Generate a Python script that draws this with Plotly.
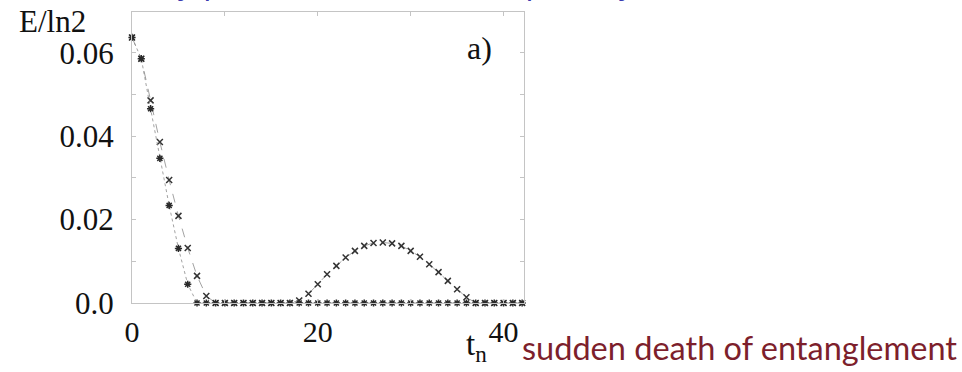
import plotly.graph_objects as go

# time steps t_n
t = list(range(0, 43))

# entanglement E/ln2 for the two initial states
E_star = [0.0637, 0.0586, 0.0466, 0.0347, 0.0234, 0.0131, 0.0045] + [0.0] * 36
E_cross = ([0.0637, 0.0586, 0.0486, 0.0386, 0.0295, 0.0209, 0.0132, 0.0065, 0.0017]
           + [0.0] * 9
           + [0.0006, 0.0022, 0.0045, 0.0069, 0.0089, 0.0109, 0.0125, 0.0137, 0.0144,
              0.0145, 0.0143, 0.0137, 0.0125, 0.0111, 0.0093, 0.0074, 0.0053, 0.0033, 0.0014]
           + [0.0] * 6)

y_tickvals = [0.0, 0.02, 0.04, 0.06]
y_ticktext = ["0.0", "0.02", "0.04", "0.06"]
x_tickvals = [0, 20, 40]
x_ticktext = ["0", "20", "40"]

serif = "Liberation Serif, Times New Roman, serif"
axis_gray = "#c4c4c4"

fig = go.Figure()
fig.add_trace(go.Scatter(
    x=t, y=E_cross, mode="lines+markers",
    line=dict(color="#8a8a8a", width=0.8, dash="dash"),
    marker=dict(symbol="x-thin-open", size=6, color="#333",
                line=dict(color="#333", width=1.5)),
    cliponaxis=False, showlegend=False,
))
fig.add_trace(go.Scatter(
    x=t, y=E_star, mode="lines+markers",
    line=dict(color="#8a8a8a", width=0.8, dash="dot"),
    marker=dict(symbol="asterisk-open", size=6, color="#2a2a2a",
                line=dict(color="#2a2a2a", width=1.5)),
    cliponaxis=False, showlegend=False,
))

fig.update_xaxes(
    range=[0, 42.2], showgrid=False, zeroline=False,
    showline=True, linecolor=axis_gray, linewidth=1, mirror="ticks",
    ticks="inside", ticklen=4, tickcolor=axis_gray,
    tickvals=x_tickvals, ticktext=x_ticktext,
    minor=dict(dtick=10, ticks="inside", ticklen=4, tickcolor=axis_gray, showgrid=False),
    tickfont=dict(family=serif, size=30, color="#111"), ticklabelstandoff=2,
)
fig.update_yaxes(
    range=[0, 0.0698], showgrid=False, zeroline=False,
    showline=True, linecolor=axis_gray, linewidth=1, mirror="ticks",
    ticks="inside", ticklen=4, tickcolor=axis_gray,
    tickvals=y_tickvals, ticktext=y_ticktext,
    minor=dict(dtick=0.01, ticks="inside", ticklen=4, tickcolor=axis_gray, showgrid=False),
    tickfont=dict(family=serif, size=31, color="#111"), ticklabelstandoff=11,
)

annotations = [
    # slide heading, running off the top edge
    dict(text="some initially pure states of a two-qubit system", x=-8, y=4,
         xref="paper", yref="paper", xanchor="left", yanchor="bottom",
         showarrow=False, font=dict(family="DejaVu Sans", size=30, color="#3a3ab0")),
    dict(text="E/ln2", x=52, y=21, xref="paper", yref="paper",
         xanchor="center", yanchor="middle", showarrow=False,
         font=dict(family=serif, size=31, color="#111")),
    dict(text="a)", x=479, y=48, xref="paper", yref="paper",
         xanchor="center", yanchor="middle", showarrow=False,
         font=dict(family=serif, size=32, color="#111")),
    dict(text="t<sub>n</sub>", x=476, y=346, xref="paper", yref="paper",
         xanchor="center", yanchor="middle", showarrow=False,
         font=dict(family=serif, size=33, color="#111")),
    dict(text="sudden death of entanglement", x=520, y=348, xref="paper", yref="paper",
         xanchor="left", yanchor="middle", showarrow=False,
         font=dict(family="Lato", size=32.5, color="#7d1f2c")),
]

# convert the pixel placements of the annotations to paper fractions
W, H = 962, 372
L, R, T, B = 132, 438, 12, 69
pw, ph = W - L - R, H - T - B
for a in annotations:
    a["x"] = (a["x"] - L) / pw
    a["y"] = (H - B - a["y"]) / ph

fig.update_layout(
    width=W, height=H,
    margin=dict(l=L, r=R, t=T, b=B),
    paper_bgcolor="white", plot_bgcolor="white",
    annotations=annotations,
)

fig.write_html("out.html")
